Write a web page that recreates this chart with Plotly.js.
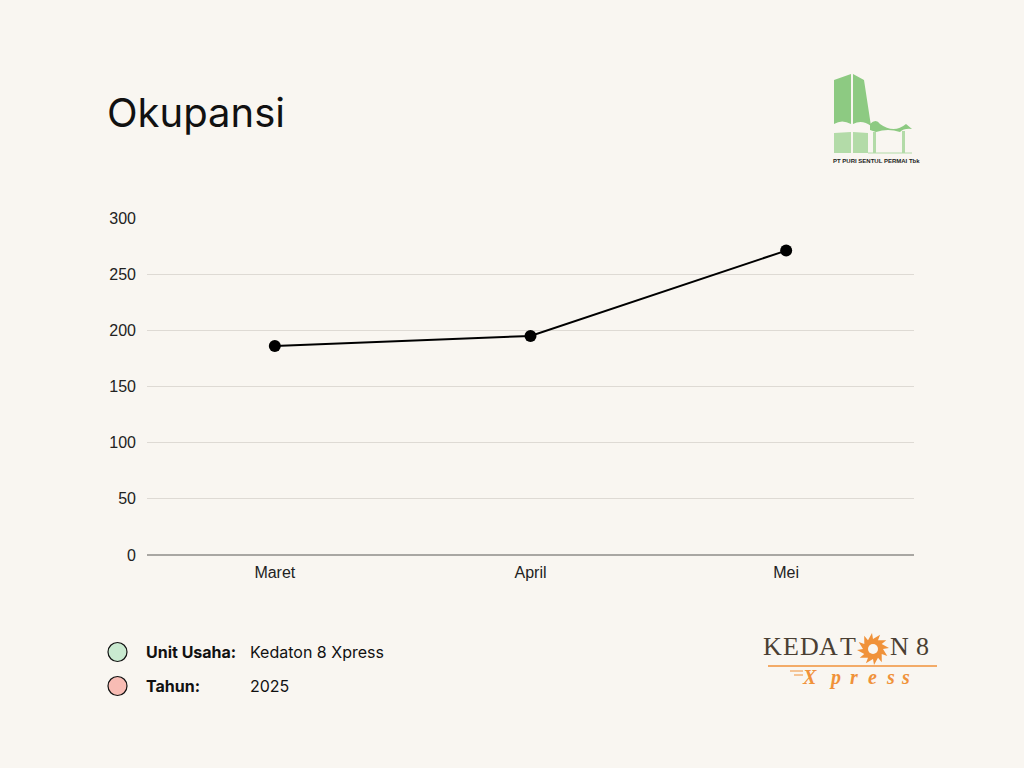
<!DOCTYPE html>
<html>
<head>
<meta charset="utf-8">
<script src="https://cdn.plot.ly/plotly-3.0.1.min.js"></script>
<style>html,body{margin:0;padding:0;background:#f9f6f1;}#chart{width:1024px;height:768px;}</style>
</head>
<body>
<div id="chart"></div>
<script>
// ---- data ----
const months = ["Maret", "April", "Mei"];
const occupancy = [186, 195, 271];
const yTicks = [0, 50, 100, 150, 200, 250, 300];
const chartTitle = "Okupansi";
const infoLabels = ["Unit Usaha:", "Tahun:"];
const infoValues = ["Kedaton 8 Xpress", "2025"];
const infoColors = ["#c9ead0", "#f8bcb4"];

const W = 1024, H = 768;
const plotL = 147, plotR = 914, plotT = 218, plotB = 555;

const shapes = [];
const annotations = [];

// legend-like info rows
const rowY = [652, 686];
infoLabels.forEach((lab, i) => {
  shapes.push({type: "circle", xref: "x2", yref: "y2", x0: 108, x1: 127, y0: rowY[i] - 9.5, y1: rowY[i] + 9.5,
    fillcolor: infoColors[i], line: {color: "#111", width: 1.2}});
  annotations.push({xref: "x2", yref: "y2", x: 144, y: rowY[i], xanchor: "left", yanchor: "middle", showarrow: false,
    text: "<b>" + lab + "</b>", font: {family: "Inter, Roboto, sans-serif", size: 16, color: "#111"}});
  annotations.push({xref: "x2", yref: "y2", x: 248, y: rowY[i], xanchor: "left", yanchor: "middle", showarrow: false,
    text: infoValues[i], font: {family: "Inter, Roboto, sans-serif", size: 16, color: "#111"}});
});

// top-right company logo (Puri Sentul Permai)
const g1 = "#8dca82", g2 = "#b3dba8";
shapes.push({type: "path", xref: "x2", yref: "y2", path: "M834,80 L851,74 L851,124 Q842,119 834,124 Z", fillcolor: g1, line: {width: 0}});
shapes.push({type: "path", xref: "x2", yref: "y2", path: "M853,74 L864,80 L871,126 Q862,119 853,124 Z", fillcolor: g1, line: {width: 0}});
shapes.push({type: "path", xref: "x2", yref: "y2", path: "M870,124 Q876,118 880,124 Q894,134 906,124 L912,129 Q904,128 900,132 Q888,128 876,132 L870,130 Z", fillcolor: g1, line: {width: 0}});
shapes.push({type: "path", xref: "x2", yref: "y2", path: "M834,133 L851,132 L851,153 L834,153 Z", fillcolor: g2, line: {width: 0}});
shapes.push({type: "path", xref: "x2", yref: "y2", path: "M853,132 L868,133 L868,153 L853,153 Z", fillcolor: g2, line: {width: 0}});
shapes.push({type: "path", xref: "x2", yref: "y2", path: "M873,132 L876,132 L876,153 L873,153 Z", fillcolor: g2, line: {width: 0}});
shapes.push({type: "path", xref: "x2", yref: "y2", path: "M902,131 L905,131 L905,153 L902,153 Z", fillcolor: g2, line: {width: 0}});
shapes.push({type: "path", xref: "x2", yref: "y2", path: "M868,153 L912,153", line: {color: g2, width: 1}});
annotations.push({xref: "x2", yref: "y2", x: 876, y: 161, xanchor: "center", yanchor: "middle", showarrow: false,
  text: "<b>PT PURI SENTUL PERMAI Tbk</b>", font: {family: "Liberation Sans, Arial, sans-serif", size: 6, color: "#222"}});

// bottom-right Kedaton 8 Xpress logo
const brown = "#4b3f33", orange = "#f0923a";
const logoLetters = ["K", "E", "D", "A", "T", "N", "8"];
const logoCenters = [772, 791, 809, 828, 848, 899, 922];
logoLetters.forEach((ch, i) => {
  annotations.push({xref: "x2", yref: "y2", x: logoCenters[i], y: 663, xanchor: "center", yanchor: "bottom", showarrow: false,
    text: ch, font: {family: "Liberation Serif, DejaVu Serif, serif", size: 26, color: brown}});
});
// sun
const cx = 873, cy = 649;
let sun = "";
for (let k = 0; k < 12; k++) {
  const a0 = (k / 12) * 2 * Math.PI, a1 = a0 + Math.PI / 12, a2 = a0 + Math.PI / 6;
  const p = (a, r) => (cx + r * Math.cos(a)).toFixed(1) + "," + (cy + r * Math.sin(a)).toFixed(1);
  sun += (k === 0 ? "M" : "L") + p(a0, 10) + " L" + p(a1 + 0.2, 16) + " L" + p(a2, 10) + " ";
}
sun += "Z";
shapes.push({type: "path", xref: "x2", yref: "y2", path: sun, fillcolor: orange, line: {width: 0}});
shapes.push({type: "circle", xref: "x2", yref: "y2", x0: cx - 5, x1: cx + 5, y0: cy - 5, y1: cy + 5, fillcolor: "#f9f6f1", line: {width: 0}});
shapes.push({type: "line", xref: "x2", yref: "y2", x0: 768, x1: 937, y0: 666, y1: 666, line: {color: orange, width: 1.3}});
shapes.push({type: "line", xref: "x2", yref: "y2", x0: 790, x1: 803, y0: 671, y1: 671, line: {color: orange, width: 1}});
shapes.push({type: "line", xref: "x2", yref: "y2", x0: 794, x1: 803, y0: 675, y1: 675, line: {color: orange, width: 1}});
const xpLetters = ["X", "p", "r", "e", "s", "s"];
const xpCenters = [809, 835, 854, 872, 890, 905];
xpLetters.forEach((ch, i) => {
  annotations.push({xref: "x2", yref: "y2", x: xpCenters[i], y: 677, xanchor: "center", yanchor: "middle", showarrow: false,
    text: "<b><i>" + ch + "</i></b>", font: {family: "Liberation Serif, DejaVu Serif, serif", size: 20, color: orange}});
});

const trace = {
  type: "scatter", mode: "lines+markers", x: months, y: occupancy,
  line: {color: "#000", width: 2}, marker: {color: "#000", size: 12},
  hoverinfo: "x+y", xaxis: "x", yaxis: "y"
};
// invisible trace to activate the overlay pixel axes
const helper = {type: "scatter", x: [0], y: [0], xaxis: "x2", yaxis: "y2", mode: "markers",
  marker: {opacity: 0}, hoverinfo: "skip", showlegend: false};

const tickFont = {family: "Liberation Sans, Arial, sans-serif", size: 16, color: "#222"};
const layout = {
  width: W, height: H,
  margin: {l: 0, r: 0, t: 0, b: 0},
  paper_bgcolor: "#f9f6f1", plot_bgcolor: "rgba(0,0,0,0)",
  showlegend: false,
  title: {text: chartTitle, x: 107 / W, xanchor: "left", xref: "container", y: 1 - 113 / H, yanchor: "middle", yref: "container",
    font: {family: "Inter, Roboto, sans-serif", size: 40, color: "#111"}},
  xaxis: {domain: [plotL / W, plotR / W], type: "category", range: [-0.5, 2.5], showgrid: false, zeroline: false,
    showline: false, ticks: "", ticklabelstandoff: 6, tickfont: tickFont, fixedrange: true},
  yaxis: {domain: [1 - plotB / H, 1 - plotT / H], range: [0, 300], tickvals: yTicks, ticktext: yTicks.map(String),
    showgrid: true, gridcolor: "#dedad4", gridwidth: 1, zeroline: true, zerolinecolor: "#a9a7a3", zerolinewidth: 1.2,
    showline: false, ticks: "", ticklabelstandoff: 10, tickfont: tickFont, fixedrange: true},
  xaxis2: {domain: [0, 1], range: [0, W], visible: false, anchor: "y2", fixedrange: true},
  yaxis2: {domain: [0, 1], range: [H, 0], visible: false, anchor: "x2", fixedrange: true},
  shapes: shapes,
  annotations: annotations
};

Plotly.newPlot("chart", [helper, trace], layout, {displayModeBar: false, staticPlot: true});
</script>
</body>
</html>
